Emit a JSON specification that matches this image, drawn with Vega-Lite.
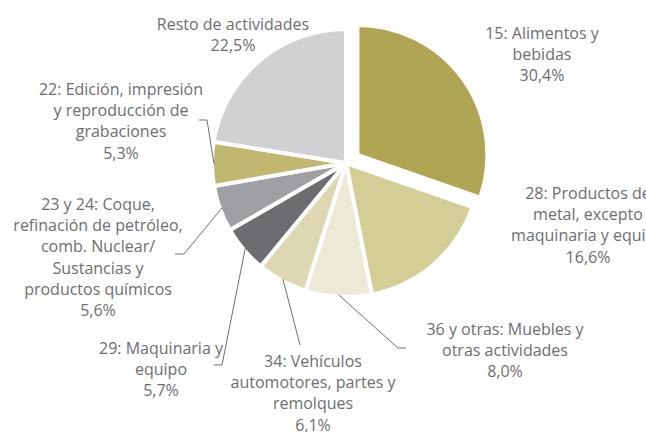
{
  "$schema": "https://vega.github.io/schema/vega-lite/v6.json",
  "width": 646,
  "height": 432,
  "autosize": {"type": "none"},
  "padding": 0,
  "background": "white",
  "config": {"view": {"stroke": null}},
  "data": {"values": [
    {"order": 0, "label": "15: Alimentos y\nbebidas", "pct": 30.4},
    {"order": 1, "label": "28: Productos de\nmetal, excepto\nmaquinaria y equipo", "pct": 16.6},
    {"order": 2, "label": "36 y otras: Muebles y\notras actividades", "pct": 8.0},
    {"order": 3, "label": "34: Vehículos\nautomotores, partes y\nremolques", "pct": 6.1},
    {"order": 4, "label": "29: Maquinaria y\nequipo", "pct": 5.7},
    {"order": 5, "label": "23 y 24: Coque,\nrefinación de petróleo,\ncomb. Nuclear/\nSustancias y\nproductos químicos", "pct": 5.6},
    {"order": 6, "label": "22: Edición, impresión\ny reproducción de\ngrabaciones", "pct": 5.3},
    {"order": 7, "label": "Resto de actividades", "pct": 22.5}
  ]},
  "transform": [
    {"window": [{"op": "sum", "field": "pct", "as": "cum"}], "sort": [{"field": "order", "order": "ascending"}], "frame": [null, 0]},
    {"joinaggregate": [{"op": "sum", "field": "pct", "as": "total"}]},
    {"calculate": "(datum.cum - datum.pct) / datum.total", "as": "f0"},
    {"calculate": "datum.cum / datum.total", "as": "f1"},
    {"calculate": "PI * (datum.f0 + datum.f1)", "as": "mid"},
    {"calculate": "datum.order == 0 ? 14 : 0", "as": "explode"},
    {"calculate": "datum.explode * sin(datum.mid)", "as": "ox"},
    {"calculate": "datum.explode * cos(datum.mid)", "as": "oy"},
    {"calculate": "replace(format(datum.pct, '.1f'), '.', ',') + '%'", "as": "pctText"},
    {"calculate": "datum.label + '\\n' + datum.pctText", "as": "text"},
    {"calculate": "[196, 242, 159, -33, -185, -248, -225, -113][datum.order]", "as": "lx"},
    {"calculate": "[129, -31, -167, -199, -186, -42, 73, 138][datum.order]", "as": "ly"},
    {"calculate": "132 * sin(datum.mid)", "as": "sx"},
    {"calculate": "132 * cos(datum.mid)", "as": "sy"},
    {"calculate": "[0, 0, 52, -46, -124, -162, -139, 0][datum.order]", "as": "ex"},
    {"calculate": "[0, 0, -185, -182, -202, -91, 43, 0][datum.order]", "as": "ey"},
    {"calculate": "[0, 0, 60, -46, -132, -171, -147, 0][datum.order]", "as": "tx"}
  ],
  "layer": [
    {
      "mark": {"type": "arc", "radius": {"expr": "datum.order == 0 ? 130 : 134"}, "stroke": "white", "strokeWidth": 4},
      "encoding": {
        "x": {"field": "ox", "type": "quantitative", "scale": {"domain": [-346, 300], "nice": false, "zero": false}, "axis": null},
        "y": {"field": "oy", "type": "quantitative", "scale": {"domain": [-269, 163], "nice": false, "zero": false}, "axis": null},
        "theta": {"field": "f0", "type": "quantitative", "scale": {"domain": [0, 1]}},
        "theta2": {"field": "f1"},
        "color": {"field": "order", "type": "nominal", "legend": null,
          "scale": {"domain": [0, 1, 2, 3, 4, 5, 6, 7], "range": ["#AFA553", "#D3CD96", "#ECEAD6", "#DDD8B2", "#6D6C71", "#A0A0A4", "#C1B770", "#D1D1D3"]}}
      }
    },
    {
      "transform": [{"filter": "datum.order >= 2 && datum.order <= 6"}],
      "mark": {"type": "rule", "color": "#6d6e71", "strokeWidth": 1},
      "encoding": {
        "x": {"field": "sx", "type": "quantitative", "scale": {"domain": [-346, 300], "nice": false, "zero": false}, "axis": null},
        "y": {"field": "sy", "type": "quantitative", "scale": {"domain": [-269, 163], "nice": false, "zero": false}, "axis": null},
        "x2": {"field": "ex"},
        "y2": {"field": "ey"}
      }
    },
    {
      "transform": [{"filter": "datum.order >= 2 && datum.order <= 6"}],
      "mark": {"type": "rule", "color": "#6d6e71", "strokeWidth": 1},
      "encoding": {
        "x": {"field": "ex", "type": "quantitative", "scale": {"domain": [-346, 300], "nice": false, "zero": false}, "axis": null},
        "y": {"field": "ey", "type": "quantitative", "scale": {"domain": [-269, 163], "nice": false, "zero": false}, "axis": null},
        "x2": {"field": "tx"},
        "y2": {"field": "ey"}
      }
    },
    {
      "mark": {"type": "text", "lineBreak": "\n", "align": "center", "baseline": "middle", "fontSize": 16, "font": "Open Sans", "color": "#6d6e71", "lineHeight": 21.2},
      "encoding": {
        "x": {"field": "lx", "type": "quantitative", "scale": {"domain": [-346, 300], "nice": false, "zero": false}, "axis": null},
        "y": {"field": "ly", "type": "quantitative", "scale": {"domain": [-269, 163], "nice": false, "zero": false}, "axis": null},
        "text": {"field": "text"}
      }
    }
  ]
}
